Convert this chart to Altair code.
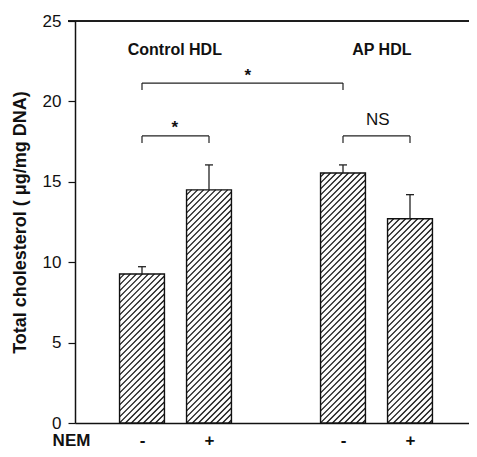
import altair as alt
import pandas as pd

# ---- data ----
groups = ["Control HDL", "Control HDL", "AP HDL", "AP HDL"]
nem = ["-", "+", "-", "+"]
positions = [1, 2, 4, 5]
values = [9.27, 14.5, 15.55, 12.7]
errors = [0.45, 1.55, 0.5, 1.5]

group_labels = ["Control HDL", "AP HDL"]
group_label_x = [1.49, 4.58]
group_label_y = [22.89, 22.89]

# brackets: start, end, top, leg bottom, label, label x, label y
br_x1 = [1, 1, 4]
br_x2 = [4, 2, 5]
br_top = [21.14, 17.85, 17.85]
br_leg = [20.71, 17.41, 17.41]
br_text = ["*", "*", "NS"]
br_text_x = [2.58, 1.49, 4.52]
br_text_y = [21.27, 18.03, 18.53]
br_weight = ["bold", "bold", "normal"]

FONT = "Liberation Sans"
PLOT_W, PLOT_H = 394, 402
X_MAX = 394 / 67
Y_MAX = 25
BAR_HALF = 0.335
CAP_HALF = 0.06

px_x = PLOT_W / X_MAX
px_y = PLOT_H / Y_MAX

bars = pd.DataFrame({"group": groups, "nem": nem, "pos": positions,
                     "value": values, "err": errors})
bars["x1"] = bars["pos"] - BAR_HALF
bars["x2"] = bars["pos"] + BAR_HALF
bars["top"] = bars["value"] + bars["err"]
bars["c1"] = bars["pos"] - CAP_HALF
bars["c2"] = bars["pos"] + CAP_HALF

# hatch segments (45 deg in pixel space) clipped to each bar
spacing = 6.0
segs = []
for _, b in bars.iterrows():
    W = (b["x2"] - b["x1"]) * px_x
    H = b["value"] * px_y
    c = -W + spacing / 2
    while c < H:
        x0 = max(0.0, -c)
        x1 = min(W, H - c)
        if x1 > x0:
            segs.append({"hx": b["x1"] + x0 / px_x, "hy": (x0 + c) / px_y,
                         "hx2": b["x1"] + x1 / px_x, "hy2": (x1 + c) / px_y})
        c += spacing
hatch = pd.DataFrame(segs)

br = pd.DataFrame({"x1": br_x1, "x2": br_x2, "top": br_top, "leg": br_leg,
                   "text": br_text, "tx": br_text_x, "ty": br_text_y,
                   "w": br_weight})
gl = pd.DataFrame({"label": group_labels, "x": group_label_x, "y": group_label_y})

xs = alt.Scale(domain=[0, X_MAX], nice=False, zero=False)
ys = alt.Scale(domain=[0, Y_MAX], nice=False)

x_axis = alt.Axis(values=positions,
                  labelExpr="datum.value == 1 || datum.value == 4 ? '-' : '+'",
                  ticks=False, grid=False, domainColor="#111", domainWidth=1.5,
                  labelFont=FONT, labelFontSize=17, labelFontWeight="bold",
                  labelColor="#111", labelPadding=22, labelBaseline="alphabetic",
                  title="NEM", titleFont=FONT, titleFontSize=17, titleFontWeight="bold",
                  titleColor="#111", titleX=-4, titleY=22, titleAlign="center",
                  titleBaseline="alphabetic")
y_axis = alt.Axis(values=[0, 5, 10, 15, 20, 25], grid=False, tickSize=7,
                  tickColor="#111", tickWidth=1.2, domainColor="#111", domainWidth=1.5,
                  labelFont=FONT, labelFontSize=17, labelColor="#111", labelPadding=7,
                  title="Total cholesterol ( μg/mg DNA)", titleFont=FONT,
                  titleFontSize=18, titleFontWeight="bold", titleColor="#111",
                  titlePadding=13)

base_bars = alt.Chart(bars)

bar_fill = base_bars.mark_rect(fill="white").encode(
    x=alt.X("x1:Q", scale=xs, axis=x_axis),
    x2="x2:Q",
    y=alt.Y("value:Q", scale=ys, axis=y_axis),
    y2=alt.datum(0),
)

hatch_layer = alt.Chart(hatch).mark_rule(color="#111", strokeWidth=1.2).encode(
    x=alt.X("hx:Q", scale=xs), x2="hx2:Q",
    y=alt.Y("hy:Q", scale=ys), y2="hy2:Q",
)

bar_outline = base_bars.mark_rect(fill=None, stroke="#111", strokeWidth=1.4).encode(
    x=alt.X("x1:Q", scale=xs), x2="x2:Q",
    y=alt.Y("value:Q", scale=ys), y2=alt.datum(0),
)

err_line = base_bars.mark_rule(color="#222", strokeWidth=1.3).encode(
    x=alt.X("pos:Q", scale=xs), y=alt.Y("value:Q", scale=ys), y2="top:Q",
)
err_cap = base_bars.mark_rule(color="#222", strokeWidth=1.3).encode(
    x=alt.X("c1:Q", scale=xs), x2="c2:Q", y=alt.Y("top:Q", scale=ys),
)

base_br = alt.Chart(br)
br_h = base_br.mark_rule(color="#222", strokeWidth=1.2).encode(
    x=alt.X("x1:Q", scale=xs), x2="x2:Q", y=alt.Y("top:Q", scale=ys),
)
br_l = base_br.mark_rule(color="#222", strokeWidth=1.2).encode(
    x=alt.X("x1:Q", scale=xs), y=alt.Y("top:Q", scale=ys), y2="leg:Q",
)
br_r = base_br.mark_rule(color="#222", strokeWidth=1.2).encode(
    x=alt.X("x2:Q", scale=xs), y=alt.Y("top:Q", scale=ys), y2="leg:Q",
)
br_t_bold = base_br.transform_filter(alt.datum.w == "bold").mark_text(
    font=FONT, fontSize=17, fontWeight="bold", color="#111",
    baseline="alphabetic", align="center").encode(
    x=alt.X("tx:Q", scale=xs), y=alt.Y("ty:Q", scale=ys), text="text:N",
)
br_t_norm = base_br.transform_filter(alt.datum.w == "normal").mark_text(
    font=FONT, fontSize=17, color="#111",
    baseline="alphabetic", align="center").encode(
    x=alt.X("tx:Q", scale=xs), y=alt.Y("ty:Q", scale=ys), text="text:N",
)

gl_t = alt.Chart(gl).mark_text(font=FONT, fontSize=16, fontWeight="bold", color="#111",
                               baseline="alphabetic", align="center").encode(
    x=alt.X("x:Q", scale=xs), y=alt.Y("y:Q", scale=ys), text="label:N",
)

top_line = alt.Chart(gl).mark_rule(color="#111", strokeWidth=1.5).encode(
    x=alt.value(-7), x2=alt.value(PLOT_W + 8), y=alt.value(0),
)

chart = alt.layer(
    bar_fill, hatch_layer, bar_outline, err_line, err_cap,
    br_h, br_l, br_r, br_t_bold, br_t_norm, gl_t, top_line,
).properties(
    width=PLOT_W, height=PLOT_H,
    autosize=alt.AutoSizeParams(type="none"),
    padding={"left": 67, "top": 13, "right": 0, "bottom": 26},
).configure_view(stroke=None).configure(background="white")

chart.save("out.html", embed_options={"renderer": "svg", "actions": False})
